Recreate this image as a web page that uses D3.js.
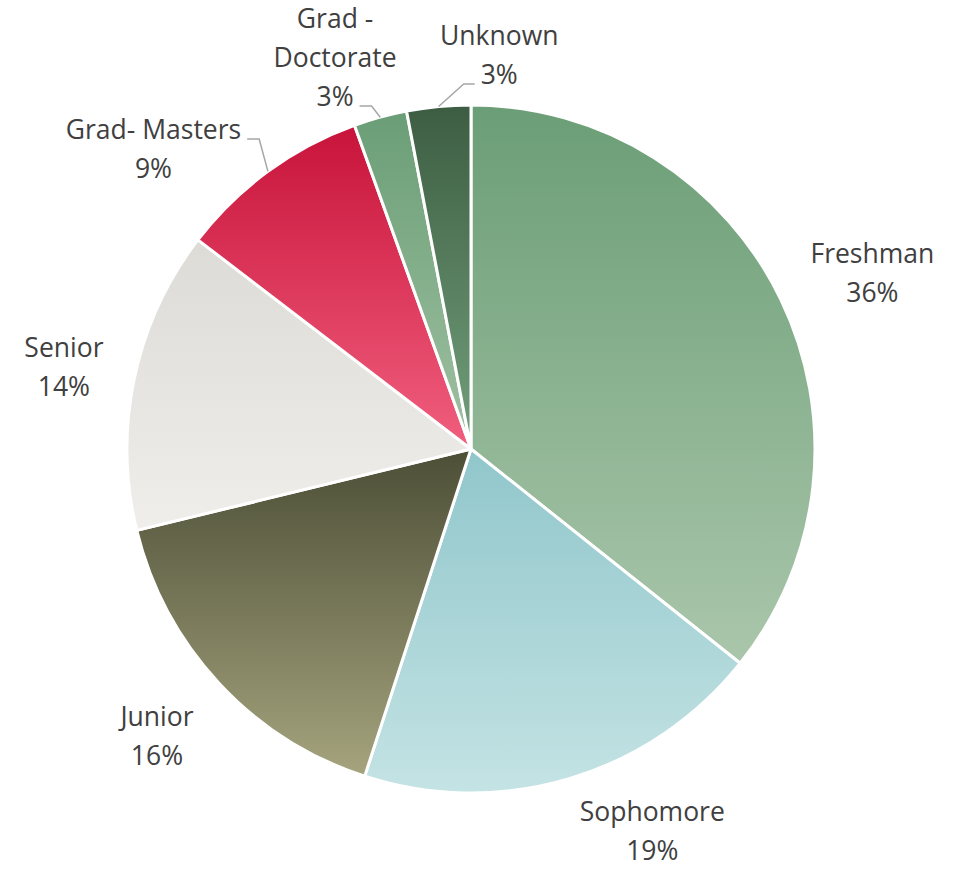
<!DOCTYPE html>
<html>
<head>
<meta charset="utf-8">
<script src="https://cdn.jsdelivr.net/npm/d3@7"></script>
<style>
  html, body { margin: 0; padding: 0; background: #ffffff; }
  svg { display: block; }
</style>
</head>
<body>
<svg id="chart" width="958" height="871"></svg>
<script>
// ---- Data ----
const categories = ["Freshman", "Sophomore", "Junior", "Senior", "Grad- Masters", "Grad - Doctorate", "Unknown"];
const values = [35.7, 19.3, 16.2, 14.2, 9.1, 2.5, 3.0];
const labelLines = [["Freshman"], ["Sophomore"], ["Junior"], ["Senior"], ["Grad- Masters"], ["Grad -", "Doctorate"], ["Unknown"]];

// ---- Styles / layout ----
const gradTop    = ["#6b9e76", "#90c6cb", "#4c4e36", "#dcdbd6", "#c8133a", "#6a9e76", "#3d5d42"];
const gradBottom = ["#aac6ab", "#c4e3e4", "#a5a47e", "#efeeeb", "#f15f7e", "#a0c1a2", "#72a07c"];
// label anchor (center x, first baseline) in polar terms around pie center: [angle deg, radius px]
const labelPolar = [[65.1, 442.5], [154.0, 413.5], [228.6, 418.7], [282.7, 417.3], [314.3, 443.7], [342.1, 442.4], [4.0, 405]];
// leader lines: which text line they attach to and at which side
const leaders = [null, null, null, null, {line: 0, side: "right"}, {line: 2, side: "right"}, {line: 1, side: "left"}];

const cx = 471, cy = 449, R = 344;
const lineH = 39;
const fontSize = 26.5;

const svg = d3.select("#chart");
const defs = svg.append("defs");
categories.forEach((c, i) => {
  const g = defs.append("linearGradient")
    .attr("id", "g" + i)
    .attr("x1", 0).attr("y1", 0).attr("x2", 0).attr("y2", 1);
  g.append("stop").attr("offset", "0%").attr("stop-color", gradTop[i]);
  g.append("stop").attr("offset", "100%").attr("stop-color", gradBottom[i]);
});

const total = d3.sum(values);
const pie = d3.pie().sort(null).value(d => d)(values);
const arc = d3.arc().innerRadius(0).outerRadius(R);

const root = svg.append("g").attr("transform", `translate(${cx},${cy})`);

root.selectAll("path.slice")
  .data(pie)
  .join("path")
  .attr("class", "slice")
  .attr("d", arc)
  .attr("fill", (d, i) => `url(#g${i})`)
  .attr("stroke", "#ffffff")
  .attr("stroke-width", 3)
  .attr("stroke-linejoin", "round");

// labels
const labG = root.append("g")
  .attr("font-family", "'Open Sans', sans-serif")
  .attr("font-size", fontSize)
  .attr("fill", "#404040");

pie.forEach((d, i) => {
  const [angDeg, r] = labelPolar[i];
  const a = angDeg * Math.PI / 180;
  const lx = r * Math.sin(a), ly = -r * Math.cos(a);
  const lines = labelLines[i].concat([Math.round(values[i] / total * 100) + "%"]);
  const t = labG.append("text").attr("text-anchor", "middle");
  const spans = lines.map((s, k) =>
    t.append("tspan").attr("x", lx).attr("y", ly + k * lineH).text(s)
  );
  const L = leaders[i];
  if (L) {
    const w = spans[L.line].node().getComputedTextLength();
    const yb = ly + L.line * lineH;
    const endX = L.side === "right" ? lx + w / 2 + 6 : lx - w / 2 - 6;
    const elbowX = L.side === "right" ? endX + 12 : endX - 11;
    const mid = (d.startAngle + d.endAngle) / 2;
    const ex = R * Math.sin(mid), ey = -R * Math.cos(mid);
    root.append("polyline")
      .attr("points", [[ex, ey], [elbowX, yb], [endX, yb]].map(p => p.join(",")).join(" "))
      .attr("fill", "none")
      .attr("stroke", "#a6a6a6")
      .attr("stroke-width", 1.5);
  }
});
</script>
</body>
</html>
